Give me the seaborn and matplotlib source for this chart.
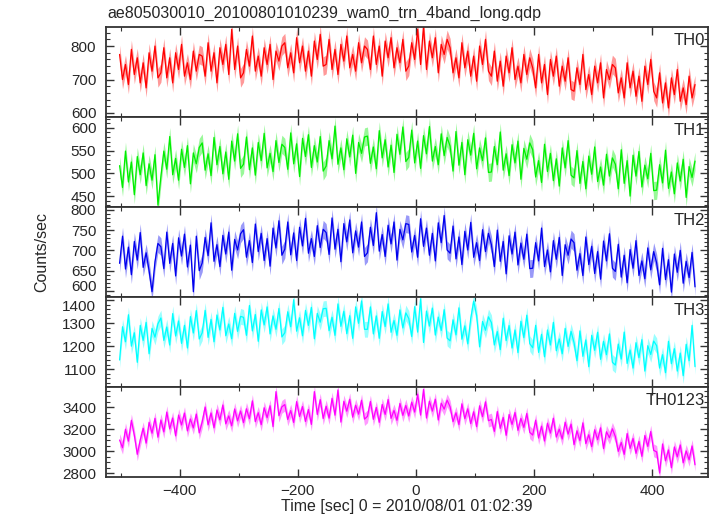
import seaborn as sns
import matplotlib.pyplot as plt
import matplotlib.ticker as mticker
import numpy as np

sns.set_style("ticks")
plt.rcParams['font.family'] = ['Liberation Sans', 'DejaVu Sans']

# light curve data, 5 s bins
t_start = -502
t_bin = 5

th0 = [
    775, 700, 745, 685, 790, 715, 765, 690, 750, 675, 780, 725, 800, 705,
    720, 795, 705, 765, 690, 780, 730, 805, 710, 750, 700, 785, 725, 775,
    770, 710, 810, 725, 780, 690, 795, 745, 805, 715, 850, 730, 800, 705,
    720, 790, 740, 830, 725, 770, 710, 795, 745, 805, 700, 785, 755, 800,
    810, 735, 780, 720, 825, 750, 800, 725, 785, 710, 815, 760, 835, 740,
    745, 820, 730, 790, 715, 805, 755, 830, 735, 775, 725, 810, 750, 800,
    790, 730, 830, 745, 800, 710, 815, 765, 825, 735, 795, 750, 820, 725,
    740, 810, 760, 850, 745, 860, 730, 815, 765, 825, 720, 805, 775, 820,
    795, 720, 765, 705, 810, 735, 785, 710, 770, 695, 800, 745, 820, 725,
    710, 785, 695, 755, 680, 770, 720, 795, 700, 740, 690, 775, 715, 765,
    735, 675, 775, 690, 745, 655, 760, 710, 770, 680, 740, 695, 765, 670,
    665, 735, 685, 775, 670, 715, 655, 740, 690, 750, 645, 730, 700, 745,
    735, 660, 705, 645, 750, 675, 725, 650, 710, 635, 740, 685, 760, 665,
    645, 720, 630, 690, 615, 705, 655, 730, 635, 675, 625, 710, 645, 685,
]
th1 = [
    517, 469, 549, 481, 525, 453, 537, 497, 545, 473, 521, 485, 541, 430,
    493, 549, 509, 581, 497, 533, 485, 553, 513, 561, 477, 545, 521, 557,
    567, 507, 543, 495, 579, 519, 559, 499, 547, 487, 571, 527, 587, 511,
    520, 580, 508, 556, 496, 568, 528, 588, 512, 544, 504, 572, 524, 564,
    557, 509, 589, 521, 565, 493, 577, 537, 585, 513, 561, 525, 581, 505,
    516, 572, 532, 604, 520, 556, 508, 576, 536, 584, 500, 568, 544, 580,
    582, 522, 558, 510, 594, 534, 574, 514, 562, 502, 586, 542, 602, 526,
    535, 595, 523, 571, 511, 583, 543, 603, 527, 559, 519, 587, 539, 579,
    560, 505, 592, 518, 568, 497, 574, 540, 588, 510, 556, 528, 578, 502,
    503, 559, 519, 591, 507, 543, 495, 563, 523, 571, 487, 555, 531, 567,
    552, 492, 528, 480, 564, 504, 544, 484, 532, 472, 556, 512, 572, 496,
    490, 550, 478, 526, 466, 538, 498, 558, 482, 514, 474, 542, 494, 534,
    520, 466, 552, 478, 528, 450, 540, 494, 548, 470, 518, 488, 544, 462,
    463, 519, 479, 551, 467, 503, 455, 523, 483, 531, 447, 515, 491, 527,
]
th2 = [
    668, 735, 654, 708, 640, 722, 676, 744, 658, 694, 650, 598, 672, 717,
    709, 655, 745, 668, 717, 637, 731, 686, 740, 659, 713, 598, 735, 650,
    669, 732, 687, 768, 673, 714, 660, 737, 691, 745, 651, 727, 701, 741,
    751, 683, 724, 670, 765, 697, 742, 675, 729, 661, 755, 706, 773, 688,
    703, 770, 689, 743, 675, 757, 711, 779, 693, 729, 685, 761, 707, 752,
    744, 690, 780, 703, 752, 672, 766, 721, 775, 694, 748, 708, 770, 685,
    694, 757, 712, 793, 698, 739, 685, 762, 716, 770, 676, 752, 726, 766,
    764, 696, 737, 683, 778, 710, 755, 688, 742, 674, 768, 719, 786, 701,
    693, 760, 679, 733, 665, 747, 701, 769, 683, 719, 675, 751, 697, 742,
    714, 660, 750, 673, 722, 642, 736, 691, 745, 664, 718, 678, 740, 655,
    656, 719, 674, 755, 660, 701, 647, 724, 678, 732, 638, 714, 688, 728,
    719, 651, 692, 638, 733, 665, 710, 643, 697, 629, 723, 674, 741, 656,
    648, 715, 634, 688, 620, 702, 656, 724, 638, 674, 630, 706, 652, 697,
    669, 615, 705, 628, 677, 597, 691, 646, 700, 619, 673, 633, 695, 610,
]
th3 = [
    1140, 1284, 1219, 1336, 1200, 1258, 1130, 1290, 1225, 1303, 1167, 1277, 1239, 1297,
    1322, 1225, 1283, 1205, 1341, 1244, 1309, 1212, 1290, 1192, 1328, 1257, 1354, 1231,
    1258, 1355, 1238, 1316, 1219, 1335, 1270, 1368, 1245, 1296, 1232, 1342, 1264, 1329,
    1325, 1247, 1376, 1266, 1337, 1221, 1357, 1292, 1370, 1253, 1331, 1273, 1363, 1240,
    1258, 1349, 1284, 1401, 1265, 1323, 1245, 1355, 1290, 1368, 1232, 1342, 1304, 1362,
    1364, 1267, 1325, 1247, 1383, 1286, 1351, 1254, 1332, 1234, 1370, 1299, 1396, 1273,
    1273, 1370, 1253, 1331, 1234, 1350, 1285, 1383, 1260, 1311, 1247, 1357, 1279, 1344,
    1320, 1242, 1371, 1261, 1405, 1216, 1352, 1287, 1365, 1248, 1326, 1268, 1358, 1235,
    1223, 1314, 1249, 1366, 1230, 1288, 1210, 1320, 1395, 1333, 1197, 1307, 1269, 1327,
    1302, 1205, 1263, 1185, 1321, 1224, 1289, 1192, 1270, 1172, 1308, 1237, 1334, 1211,
    1193, 1290, 1173, 1251, 1154, 1270, 1205, 1303, 1180, 1231, 1167, 1277, 1199, 1264,
    1215, 1137, 1266, 1156, 1227, 1111, 1247, 1182, 1260, 1143, 1221, 1163, 1253, 1130,
    1118, 1209, 1144, 1261, 1125, 1183, 1105, 1215, 1150, 1228, 1092, 1202, 1164, 1222,
    1202, 1105, 1163, 1085, 1221, 1124, 1189, 1092, 1170, 1072, 1208, 1137, 1290, 1111,
]
th0123 = [
    3100, 3030, 3198, 3090, 3279, 3144, 2970, 3099, 3207, 3072, 3261, 3162, 3297, 3126,
    3282, 3174, 3354, 3201, 3300, 3138, 3327, 3237, 3345, 3183, 3291, 3210, 3336, 3165,
    3265, 3400, 3238, 3346, 3211, 3373, 3283, 3418, 3247, 3319, 3229, 3382, 3274, 3364,
    3258, 3384, 3294, 3456, 3267, 3348, 3240, 3393, 3303, 3411, 3222, 3540, 3321, 3402,
    3422, 3287, 3368, 3260, 3449, 3314, 3404, 3269, 3377, 3242, 3540, 3332, 3467, 3296,
    3407, 3299, 3479, 3326, 3555, 3263, 3452, 3362, 3470, 3308, 3416, 3335, 3461, 3290,
    3315, 3450, 3288, 3396, 3261, 3423, 3333, 3468, 3297, 3369, 3279, 3432, 3324, 3414,
    3318, 3444, 3354, 3516, 3327, 3560, 3300, 3453, 3363, 3471, 3282, 3435, 3381, 3462,
    3402, 3267, 3348, 3240, 3429, 3294, 3384, 3249, 3357, 3222, 3411, 3312, 3447, 3276,
    3287, 3179, 3359, 3206, 3305, 3143, 3332, 3242, 3350, 3188, 3296, 3215, 3341, 3170,
    3145, 3280, 3118, 3226, 3091, 3253, 3163, 3298, 3127, 3199, 3109, 3262, 3154, 3244,
    3058, 3184, 3094, 3256, 3067, 3148, 3040, 3193, 3103, 3211, 3022, 3175, 3121, 3202,
    3132, 2997, 3078, 2970, 3159, 3024, 3114, 2979, 3087, 2952, 3141, 3042, 3177, 3006,
    2992, 2800, 3064, 2911, 3010, 2848, 3037, 2947, 3055, 2893, 3001, 2920, 3046, 2875,
]

bands = ["TH0", "TH1", "TH2", "TH3", "TH0123"]
rates = [th0, th1, th2, th3, th0123]
errors = [28, 20, 22, 34, 58]
colors = ["#ff0000", "#00ee00", "#0000ee", "#00ffff", "#ff00ff"]
ylims = [(588, 857), (426, 624), (585, 807), (1023, 1413), (2764, 3582)]
ymajor = [100, 50, 50, 100, 200]
yminor = [20, 10, 10, 20, 50]

time = t_start + t_bin * np.arange(len(th0))

fig, axes = plt.subplots(5, 1, figsize=(7.17, 5.16), dpi=100, sharex=True)
fig.subplots_adjust(left=106 / 717, right=708 / 717, top=1 - 27 / 516,
                    bottom=1 - 477 / 516, hspace=0)

for ax, name, vals, err, c, yl, mj, mn in zip(axes, bands, rates, errors, colors,
                                              ylims, ymajor, yminor):
    v = np.array(vals, dtype=float)
    ax.fill_between(time, v - err, v + err, color=c, alpha=0.4, linewidth=0)
    sns.lineplot(x=time, y=v, ax=ax, color=c, linewidth=0.9)
    ax.set_ylim(*yl)
    ax.set_xlim(-525, 495)
    ax.yaxis.set_major_locator(mticker.MultipleLocator(mj))
    ax.yaxis.set_minor_locator(mticker.MultipleLocator(mn))
    ax.xaxis.set_major_locator(mticker.MultipleLocator(200))
    ax.xaxis.set_minor_locator(mticker.MultipleLocator(100))
    ax.tick_params(which="both", direction="in", top=True, right=True,
                   labelsize=11, color="#333333", pad=7)
    ax.tick_params(which="major", length=6, width=1)
    ax.tick_params(which="minor", length=3, width=0.8)
    for s in ax.spines.values():
        s.set_linewidth(1.3)
        s.set_color("#333333")
    ax.set_ylabel("")
    ax.text(0.995, 0.93, name, transform=ax.transAxes, ha="right", va="top",
            fontsize=12)

axes[-1].tick_params(axis="x", labelsize=11, pad=5)
axes[-1].set_xlabel("")

# nudge the two labels that meet at the TH2/TH3 boundary apart
fig.canvas.draw()
for tk in axes[2].yaxis.get_major_ticks():
    if tk.label1.get_text() == "600":
        tk.label1.set_va("baseline")
for tk in axes[3].yaxis.get_major_ticks():
    if tk.label1.get_text() == "1400":
        tk.label1.set_va("top")

fig.text(107 / 717, 1 - 13 / 516, "ae805030010_20100801010239_wam0_trn_4band_long.qdp",
         ha="left", va="center", fontsize=11.5)
fig.text(407 / 717, 1 - 507 / 516, "Time [sec] 0 = 2010/08/01 01:02:39",
         ha="center", va="center", fontsize=11.5)
fig.text(42 / 717, 1 - 252 / 516, "Counts/sec", ha="center", va="center",
         rotation=90, fontsize=11.5)

plt.savefig("out.png", dpi=100)
plt.close()
